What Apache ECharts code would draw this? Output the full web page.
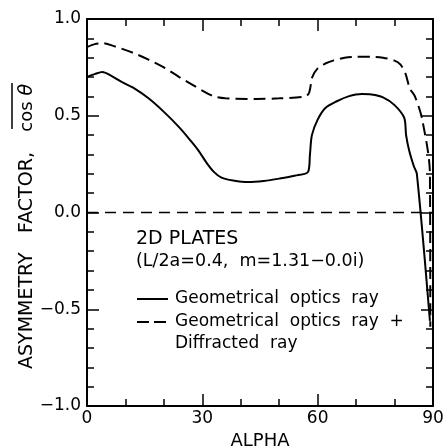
<!DOCTYPE html>
<html>
<head>
<meta charset="utf-8">
<script src="https://cdn.jsdelivr.net/npm/echarts@6/dist/echarts.min.js"></script>
<style>
  html, body { margin: 0; padding: 0; background: #fff; }
  #chart { width: 446px; height: 448px; }
</style>
</head>
<body>
<div id="chart"></div>
<script>
// alpha (deg) and asymmetry factor
const geoOptics = [
  [0, 0.70], [2, 0.715], [4, 0.726], [6, 0.71], [9, 0.675], [12, 0.645],
  [16, 0.59], [20, 0.52], [24, 0.44], [27, 0.37], [29, 0.32], [31, 0.26],
  [33, 0.21], [35, 0.18], [38, 0.165], [42, 0.157], [46, 0.163], [50, 0.175],
  [54, 0.19], [57.5, 0.21], [58, 0.30], [58.5, 0.40], [60, 0.48], [62, 0.54],
  [65, 0.575], [68, 0.60], [71.5, 0.612], [74, 0.61], [77, 0.595], [80, 0.555],
  [82.5, 0.49], [83, 0.40], [83.8, 0.32], [85, 0.24], [85.8, 0.20], [89.2, -0.56]
];
const geoPlusDiffr = [
  [0, 0.855], [2, 0.87], [4, 0.875], [7, 0.86], [12, 0.825], [16, 0.79],
  [20, 0.75], [24, 0.70], [27, 0.665], [30, 0.63], [33, 0.60], [36, 0.59],
  [44, 0.587], [50, 0.59], [56.8, 0.60], [57.8, 0.62], [58.6, 0.70], [60, 0.745],
  [62, 0.77], [64, 0.785], [67, 0.80], [70, 0.805], [74, 0.805], [77, 0.80],
  [80, 0.785], [81.5, 0.765], [82.8, 0.72], [84, 0.64], [85.3, 0.60],
  [87.2, 0.48], [89.2, 0.20], [89.3, -0.59]
];
const zeroLine = [[0, 0], [90, 0]];

const xTicks = [0, 30, 60, 90];
const yTicks = [-1.0, -0.5, 0.0, 0.5, 1.0];

const FONT = '"DejaVu Sans", sans-serif';
const chart = echarts.init(document.getElementById('chart'));

function frameAxis(extra) {
  return Object.assign({
    type: 'value',
    axisLine: { show: true, onZero: false, lineStyle: { color: '#000', width: 2 } },
    axisTick: { show: true, inside: true, length: 12, lineStyle: { color: '#000', width: 1.5 } },
    minorTick: { show: true, length: 7, lineStyle: { color: '#000', width: 1.5 } },
    splitLine: { show: false },
    minorSplitLine: { show: false }
  }, extra);
}

chart.setOption({
  animation: false,
  grid: { left: 87, top: 19, right: 13, bottom: 42, outerBoundsMode: 'none', containLabel: false },
  xAxis: [
    frameAxis({
      min: xTicks[0], max: xTicks[xTicks.length - 1], interval: 30,
      minorTick: { show: true, splitNumber: 3, length: 7, lineStyle: { color: '#000', width: 1.5 } },
      axisLabel: { color: '#000', fontFamily: FONT, fontSize: 17, margin: 4 },
      name: 'ALPHA', nameLocation: 'middle', nameGap: 23,
      nameTextStyle: { color: '#000', fontFamily: FONT, fontSize: 18 }
    }),
    frameAxis({
      position: 'top', min: 0, max: 90, interval: 30,
      minorTick: { show: true, splitNumber: 3, length: 7, lineStyle: { color: '#000', width: 1.5 } },
      axisLabel: { show: false }
    })
  ],
  yAxis: [
    frameAxis({
      min: yTicks[0], max: yTicks[yTicks.length - 1], interval: 0.5,
      minorTick: { show: true, splitNumber: 5, length: 7, lineStyle: { color: '#000', width: 1.5 } },
      axisLabel: {
        color: '#000', fontFamily: FONT, fontSize: 17, margin: 6,
        formatter: v => v.toFixed(1).replace('-', '\u2212')
      }
    }),
    frameAxis({
      position: 'right', min: -1, max: 1, interval: 0.5,
      minorTick: { show: true, splitNumber: 5, length: 7, lineStyle: { color: '#000', width: 1.5 } },
      axisLabel: { show: false }
    })
  ],
  series: [
    {
      name: 'Geometrical optics ray', type: 'line', data: geoOptics,
      showSymbol: false, smooth: 0.3, lineStyle: { color: '#000', width: 2 }
    },
    {
      name: 'Geometrical optics ray + Diffracted ray', type: 'line', data: geoPlusDiffr,
      showSymbol: false, smooth: 0.3,
      lineStyle: { color: '#000', width: 2, type: [12, 6] }
    },
    {
      type: 'line', data: zeroLine, showSymbol: false,
      lineStyle: { color: '#000', width: 1.5, type: [11, 7] }
    }
  ],
  graphic: [
    // y axis title, rotated to read bottom-up
    {
      type: 'text', x: 27, y: 369, rotation: Math.PI / 2,
      style: { text: 'ASYMMETRY', font: '19px ' + FONT, fill: '#000',
               textAlign: 'left', textVerticalAlign: 'middle' }
    },
    {
      type: 'text', x: 27, y: 233, rotation: Math.PI / 2,
      style: { text: 'FACTOR,', font: '19px ' + FONT, fill: '#000',
               textAlign: 'left', textVerticalAlign: 'middle' }
    },
    {
      type: 'text', x: 27, y: 84, rotation: Math.PI / 2,
      style: {
        text: '{a|cos }{b|θ}', fill: '#000', textAlign: 'right', textVerticalAlign: 'middle',
        rich: {
          a: { fontFamily: FONT, fontSize: 18 },
          b: { fontFamily: FONT, fontSize: 19, fontStyle: 'italic' }
        }
      }
    },
    { type: 'line', shape: { x1: 12, y1: 83, x2: 12, y2: 129 }, style: { stroke: '#000', lineWidth: 1.5 } },
    {
      type: 'text', x: 136, y: 239,
      style: { text: '2D PLATES', font: '19px ' + FONT, fill: '#000', textVerticalAlign: 'middle' }
    },
    {
      type: 'text', x: 136, y: 261,
      style: { text: '(L/2a=0.4,  m=1.31\u22120.0i)', font: '17.5px ' + FONT, fill: '#000', textVerticalAlign: 'middle' }
    },
    { type: 'line', shape: { x1: 137, y1: 299, x2: 168, y2: 299 }, style: { stroke: '#000', lineWidth: 2 } },
    {
      type: 'text', x: 175, y: 299,
      style: { text: 'Geometrical  optics  ray', font: '17px ' + FONT, fill: '#000', textVerticalAlign: 'middle' }
    },
    { type: 'line', shape: { x1: 137, y1: 322, x2: 168, y2: 322 }, style: { stroke: '#000', lineWidth: 2, lineDash: [12, 5] } },
    {
      type: 'text', x: 175, y: 322,
      style: { text: 'Geometrical  optics  ray  +', font: '17px ' + FONT, fill: '#000', textVerticalAlign: 'middle' }
    },
    {
      type: 'text', x: 175, y: 344,
      style: { text: 'Diffracted  ray', font: '17px ' + FONT, fill: '#000', textVerticalAlign: 'middle' }
    }
  ]
});
</script>
</body>
</html>
